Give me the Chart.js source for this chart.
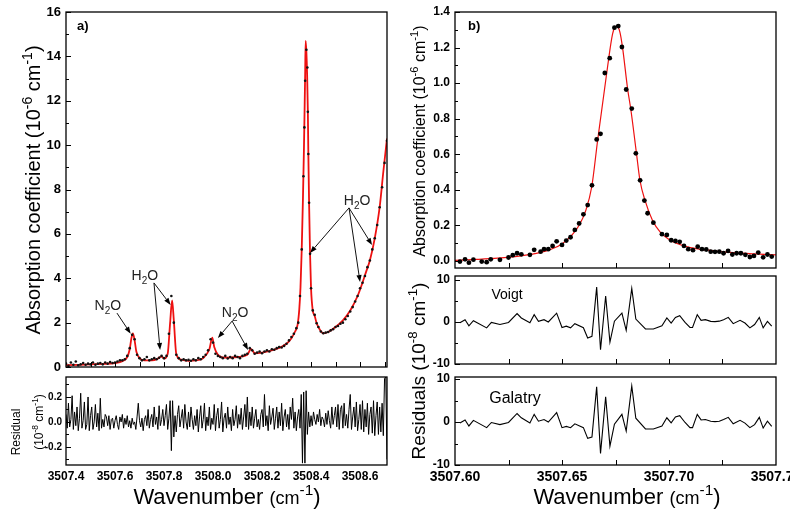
<!DOCTYPE html>
<html>
<head>
<meta charset="utf-8">
<script src="https://cdn.jsdelivr.net/npm/chart.js@4.4.1/dist/chart.umd.min.js"></script>
<style>
  body { margin: 0; background: #fff; width: 790px; height: 514px; position: relative; overflow: hidden;
         font-family: "Liberation Sans", Arial, sans-serif; color: #000; }
  canvas { position: absolute; }
  .t { position: absolute; white-space: nowrap; line-height: 1; }
  .rot { transform: translate(-50%, -50%) rotate(-90deg); }
  .ctr { transform: translate(-50%, -50%); }
  sup { font-size: 0.7em; vertical-align: 0; position: relative; top: -0.6em; line-height: 0; }
</style>
</head>
<body>
<canvas id="aMain" width="392" height="372" style="left:0;top:0"></canvas>
<canvas id="aRes" width="392" height="142" style="left:0;top:372px"></canvas>
<canvas id="bMain" width="390" height="272" style="left:400px;top:0"></canvas>
<canvas id="bVoigt" width="390" height="96" style="left:400px;top:272px"></canvas>
<canvas id="bGalatry" width="390" height="142" style="left:400px;top:372px"></canvas>

<!-- axis titles and panel labels -->
<div class="t rot" style="left:33px;top:190px;font-size:20px">Absorption coefficient (10<sup>-6</sup> cm<sup>-1</sup>)</div>
<div class="t rot" style="left:16px;top:432px;font-size:12px">Residual</div>
<div class="t rot" style="left:39px;top:422px;font-size:12px">(10<sup>-8</sup> cm<sup>-1</sup>)</div>
<div class="t ctr" style="left:227px;top:497px;font-size:22px">Wavenumber <span style="font-size:.82em">(cm</span><sup>-1</sup>)</div>
<div class="t" style="left:77px;top:19px;font-size:13px;font-weight:bold">a)</div>

<div class="t rot" style="left:420px;top:141px;font-size:16px">Absorption coefficient (10<sup>-6</sup> cm<sup>-1</sup>)</div>
<div class="t rot" style="left:418px;top:371px;font-size:19px">Residuals (10<sup>-8</sup> cm<sup>-1</sup>)</div>
<div class="t ctr" style="left:627px;top:497px;font-size:22px">Wavenumber <span style="font-size:.82em">(cm</span><sup>-1</sup>)</div>
<div class="t" style="left:468px;top:19px;font-size:13px;font-weight:bold">b)</div>
<div class="t ctr" style="left:507px;top:294px;font-size:14px">Voigt</div>
<div class="t ctr" style="left:515px;top:398px;font-size:16px">Galatry</div>

<script>
const FONT = '"Liberation Sans", Arial, sans-serif';

// ---- panel a) full spectrum ----
const aObsX = [3507.40, 3507.41, 3507.42, 3507.43, 3507.44, 3507.45, 3507.46, 3507.47, 3507.48, 3507.49,
  3507.50, 3507.51, 3507.52, 3507.53, 3507.54, 3507.55, 3507.56, 3507.57, 3507.58, 3507.59,
  3507.60, 3507.61, 3507.62, 3507.63, 3507.64, 3507.65, 3507.66, 3507.67, 3507.68, 3507.69,
  3507.70, 3507.71, 3507.72, 3507.73, 3507.74, 3507.75, 3507.76, 3507.77, 3507.78, 3507.79,
  3507.80, 3507.81, 3507.82, 3507.83, 3507.84, 3507.85, 3507.86, 3507.87, 3507.88, 3507.89,
  3507.90, 3507.91, 3507.92, 3507.93, 3507.94, 3507.95, 3507.96, 3507.97, 3507.98, 3507.99,
  3508.00, 3508.01, 3508.02, 3508.03, 3508.04, 3508.05, 3508.06, 3508.07, 3508.08, 3508.09,
  3508.10, 3508.11, 3508.12, 3508.13, 3508.14, 3508.15, 3508.16, 3508.17, 3508.18, 3508.19,
  3508.20, 3508.21, 3508.22, 3508.23, 3508.24, 3508.25, 3508.26, 3508.27, 3508.28, 3508.29,
  3508.30, 3508.31, 3508.32, 3508.33, 3508.34, 3508.348, 3508.355, 3508.362, 3508.369, 3508.373,
  3508.376, 3508.381, 3508.385, 3508.387, 3508.389, 3508.392, 3508.396, 3508.40, 3508.407, 3508.415,
  3508.423, 3508.43, 3508.44, 3508.45, 3508.46, 3508.47, 3508.48, 3508.49,
  3508.50, 3508.51, 3508.52, 3508.53, 3508.54, 3508.55, 3508.56, 3508.57, 3508.58, 3508.59,
  3508.60, 3508.61, 3508.62, 3508.63, 3508.64, 3508.65, 3508.66, 3508.67, 3508.68, 3508.69,
  3508.70, 3508.71];
const aObsY = [0.15, 0.05, 0.2, 0.1, 0.25, 0.08, 0.12, 0.18, 0.1, 0.15,
  0.12, 0.2, 0.1, 0.15, 0.18, 0.12, 0.2, 0.15, 0.22, 0.18,
  0.2, 0.25, 0.3, 0.3, 0.35, 0.5, 0.85, 1.45, 1.25, 0.55,
  0.4, 0.3, 0.35, 0.45, 0.3, 0.35, 0.4, 0.35, 0.42, 0.5,
  0.4, 0.5, 1.5, 3.2, 2.0, 0.55, 0.4, 0.3, 0.35, 0.3,
  0.32, 0.28, 0.35, 0.3, 0.4, 0.35, 0.45, 0.55, 0.75, 1.25,
  1.1, 0.6, 0.5, 0.45, 0.4, 0.5, 0.38, 0.45, 0.4, 0.5,
  0.45, 0.4, 0.5, 0.55, 0.6, 0.85, 0.75, 0.6, 0.65, 0.7,
  0.62, 0.7, 0.75, 0.7, 0.8, 0.78, 0.85, 0.9, 0.88, 0.95,
  1.05, 1.2, 1.35, 1.5, 1.75, 2.0, 3.2, 5.3, 8.6, 10.8,
  12.9, 14.3, 13.5, 11.5, 9.6, 7.4, 5.1, 3.55, 2.55, 2.35,
  1.97, 1.8, 1.6, 1.52, 1.55, 1.58, 1.65, 1.7,
  1.8, 1.85, 1.95, 2.0, 2.15, 2.3, 2.5, 2.7, 2.95, 3.2,
  3.55, 3.8, 4.1, 4.5, 4.8, 5.3, 5.8, 6.4, 7.2, 8.1,
  9.2, 10.2];
const aFitX = [3507.40, 3507.45, 3507.50, 3507.55, 3507.60, 3507.63, 3507.65, 3507.66, 3507.667, 3507.673,
  3507.68, 3507.687, 3507.70, 3507.72, 3507.75, 3507.775, 3507.79, 3507.80, 3507.815, 3507.825,
  3507.833, 3507.84, 3507.85, 3507.87, 3507.90, 3507.93, 3507.96, 3507.985, 3507.997, 3508.005,
  3508.02, 3508.05, 3508.10, 3508.14, 3508.155, 3508.17, 3508.20, 3508.25, 3508.30, 3508.32,
  3508.335, 3508.345, 3508.352, 3508.357, 3508.362, 3508.367, 3508.371, 3508.374, 3508.376, 3508.378,
  3508.381, 3508.384, 3508.387, 3508.389, 3508.392, 3508.396, 3508.40, 3508.407, 3508.415, 3508.423,
  3508.435, 3508.45, 3508.47, 3508.50, 3508.53, 3508.56, 3508.59, 3508.61, 3508.625, 3508.64,
  3508.66, 3508.68, 3508.695, 3508.71];
const aFitY = [0.08, 0.10, 0.12, 0.14, 0.18, 0.26, 0.45, 0.8, 1.3, 1.52,
  1.2, 0.7, 0.4, 0.3, 0.3, 0.38, 0.48, 0.38, 0.6, 2.0,
  3.0, 2.1, 0.6, 0.33, 0.28, 0.3, 0.4, 0.8, 1.32, 0.9,
  0.55, 0.42, 0.45, 0.55, 0.82, 0.62, 0.65, 0.78, 1.05, 1.3,
  1.6, 1.9, 2.6, 3.6, 5.3, 7.6, 9.8, 11.8, 13.2, 14.7,
  14.2, 13.2, 11.5, 9.6, 7.4, 5.1, 3.55, 2.55, 2.3, 1.97,
  1.7, 1.52, 1.58, 1.8, 2.1, 2.55, 3.2, 3.8, 4.3, 4.8,
  5.8, 7.2, 8.8, 10.3];
const aResX = [
  3507.400, 3507.405, 3507.410, 3507.415, 3507.420, 3507.425, 3507.430, 3507.435, 3507.440, 3507.445,
  3507.450, 3507.455, 3507.460, 3507.465, 3507.470, 3507.475, 3507.480, 3507.485, 3507.490, 3507.495,
  3507.500, 3507.505, 3507.510, 3507.515, 3507.520, 3507.525, 3507.530, 3507.535, 3507.540, 3507.545,
  3507.550, 3507.555, 3507.560, 3507.565, 3507.570, 3507.575, 3507.580, 3507.585, 3507.590, 3507.595,
  3507.600, 3507.605, 3507.610, 3507.615, 3507.620, 3507.625, 3507.630, 3507.635, 3507.640, 3507.645,
  3507.650, 3507.655, 3507.660, 3507.665, 3507.670, 3507.675, 3507.680, 3507.685, 3507.690, 3507.695,
  3507.700, 3507.705, 3507.710, 3507.715, 3507.720, 3507.725, 3507.730, 3507.735, 3507.740, 3507.745,
  3507.750, 3507.755, 3507.760, 3507.765, 3507.770, 3507.775, 3507.780, 3507.785, 3507.790, 3507.795,
  3507.800, 3507.805, 3507.810, 3507.815, 3507.820, 3507.825, 3507.830, 3507.835, 3507.840, 3507.845,
  3507.850, 3507.855, 3507.860, 3507.865, 3507.870, 3507.875, 3507.880, 3507.885, 3507.890, 3507.895,
  3507.900, 3507.905, 3507.910, 3507.915, 3507.920, 3507.925, 3507.930, 3507.935, 3507.940, 3507.945,
  3507.950, 3507.955, 3507.960, 3507.965, 3507.970, 3507.975, 3507.980, 3507.985, 3507.990, 3507.995,
  3508.000, 3508.005, 3508.010, 3508.015, 3508.020, 3508.025, 3508.030, 3508.035, 3508.040, 3508.045,
  3508.050, 3508.055, 3508.060, 3508.065, 3508.070, 3508.075, 3508.080, 3508.085, 3508.090, 3508.095,
  3508.100, 3508.105, 3508.110, 3508.115, 3508.120, 3508.125, 3508.130, 3508.135, 3508.140, 3508.145,
  3508.150, 3508.155, 3508.160, 3508.165, 3508.170, 3508.175, 3508.180, 3508.185, 3508.190, 3508.195,
  3508.200, 3508.205, 3508.210, 3508.215, 3508.220, 3508.225, 3508.230, 3508.235, 3508.240, 3508.245,
  3508.250, 3508.255, 3508.260, 3508.265, 3508.270, 3508.275, 3508.280, 3508.285, 3508.290, 3508.295,
  3508.300, 3508.305, 3508.310, 3508.315, 3508.320, 3508.325, 3508.330, 3508.335, 3508.340, 3508.345,
  3508.350, 3508.355, 3508.360, 3508.365, 3508.370, 3508.375, 3508.380, 3508.385, 3508.390, 3508.395,
  3508.400, 3508.405, 3508.410, 3508.415, 3508.420, 3508.425, 3508.430, 3508.435, 3508.440, 3508.445,
  3508.450, 3508.455, 3508.460, 3508.465, 3508.470, 3508.475, 3508.480, 3508.485, 3508.490, 3508.495,
  3508.500, 3508.505, 3508.510, 3508.515, 3508.520, 3508.525, 3508.530, 3508.535, 3508.540, 3508.545,
  3508.550, 3508.555, 3508.560, 3508.565, 3508.570, 3508.575, 3508.580, 3508.585, 3508.590, 3508.595,
  3508.600, 3508.605, 3508.610, 3508.615, 3508.620, 3508.625, 3508.630, 3508.635, 3508.640, 3508.645,
  3508.650, 3508.655, 3508.660, 3508.665, 3508.670, 3508.675, 3508.680, 3508.685, 3508.690, 3508.695,
  3508.700, 3508.705, 3508.710];
const aResY = [
  0.06, -0.05, 0.15, -0.04, 0.02, 0.21, -0.06, 0.08, -0.03, 0.12,
  -0.07, 0.03, 0.23, -0.05, 0.01, 0.16, -0.06, -0.02, 0.2, -0.07,
  0.05, 0.12, -0.06, 0.0, 0.14, -0.04, 0.07, -0.07, 0.19, -0.05,
  0.02, -0.04, 0.06, 0.04, -0.03, 0.05, -0.06, 0.02, 0.03, -0.05,
  0.01, 0.05, -0.02, -0.06, 0.04, 0.0, 0.06, -0.05, 0.03, -0.02,
  0.05, -0.04, 0.01, -0.05, 0.03, -0.02, 0.0, -0.06, 0.04, 0.15,
  0.01, -0.04, 0.03, -0.07, 0.02, 0.05, -0.03, 0.1, -0.05, 0.02,
  0.06, -0.04, 0.12, -0.02, 0.04, -0.06, 0.13, -0.03, 0.02, 0.1,
  -0.03, 0.05, 0.14, -0.06, 0.03, 0.17, -0.23, 0.17, -0.12, 0.05,
  -0.08, 0.06, 0.13, -0.04, 0.03, 0.1, -0.05, 0.14, 0.0, -0.06,
  0.08, -0.04, 0.12, 0.02, -0.06, 0.05, -0.03, 0.1, -0.08, 0.04,
  0.13, -0.05, 0.02, 0.15, -0.07, 0.04, -0.03, 0.12, -0.06, 0.03,
  -0.02, 0.14, -0.07, 0.05, 0.11, -0.05, 0.02, 0.16, -0.08, 0.03,
  0.07, -0.05, 0.12, -0.02, 0.04, -0.07, 0.1, -0.03, 0.02, 0.13,
  -0.05, 0.06, -0.02, 0.11, -0.06, 0.04, 0.14, -0.04, 0.2, -0.06,
  0.08, -0.03, 0.12, -0.05, 0.03, 0.1, -0.04, 0.02, -0.06, 0.06,
  0.1, -0.04, 0.22, -0.03, 0.05, -0.07, 0.13, -0.02, 0.04, 0.11,
  -0.06, 0.03, 0.12, -0.05, 0.08, -0.03, 0.15, -0.07, 0.04, 0.1,
  -0.04, 0.06, -0.06, 0.12, 0.02, 0.19, -0.05, 0.08, -0.07, 0.04,
  0.1, -0.05, 0.22, -0.33, 0.24, -0.33, 0.25, -0.1, 0.08, -0.04,
  0.05, -0.03, 0.08, 0.02, -0.02, 0.06, 0.0, 0.1, -0.03, 0.04,
  0.02, -0.04, 0.07, -0.02, 0.09, 0.01, -0.05, 0.12, -0.02, 0.05,
  0.12, -0.04, 0.14, -0.06, 0.1, 0.13, -0.05, 0.15, -0.03, 0.06,
  -0.05, 0.1, 0.22, -0.06, 0.04, 0.12, -0.04, 0.16, -0.07, 0.02,
  0.14, -0.06, 0.17, -0.08, 0.1, -0.04, 0.15, -0.1, 0.06, 0.12,
  -0.09, 0.17, -0.11, 0.05, 0.16, -0.1, 0.12, -0.08, 0.15, -0.11,
  0.35, 0.36, -0.3];
const aXTicks = [3507.4, 3507.6, 3507.8, 3508.0, 3508.2, 3508.4, 3508.6];
const aXMarks = [3507.5, 3507.6, 3507.7, 3507.8, 3507.9, 3508.0, 3508.1, 3508.2, 3508.3, 3508.4, 3508.5, 3508.6, 3508.7];
const aYTicks = [0, 2, 4, 6, 8, 10, 12, 14, 16];
const aYMinor = [1, 3, 5, 7, 9, 11, 13, 15];
const aResYTicks = [-0.2, 0.0, 0.2];
const aResYMinor = [-0.3, -0.1, 0.1, 0.3];

// labels with arrows: text centre and arrow (from x,y -> to x,y) in data units
const aNotes = [
  { text: ['N', '2', 'O'], at: [3507.571, 2.79], arrows: [[3507.608, 2.43, 3507.664, 1.5]] },
  { text: ['H', '2', 'O'], at: [3507.722, 4.15], arrows: [[3507.759, 3.79, 3507.784, 0.77], [3507.759, 3.79, 3507.827, 2.8]] },
  { text: ['N', '2', 'O'], at: [3508.09, 2.48], arrows: [[3508.078, 2.07, 3508.02, 1.31], [3508.078, 2.07, 3508.143, 0.77]] },
  { text: ['H', '2', 'O'], at: [3508.588, 7.53], arrows: [[3508.555, 7.17, 3508.396, 5.14], [3508.555, 7.17, 3508.6, 3.83], [3508.555, 7.17, 3508.649, 5.5]] }
];

// ---- panel b) single line ----
const bObsX = [3507.6023, 3507.6047, 3507.6065, 3507.6086, 3507.6125, 3507.6148, 3507.6167, 3507.621, 3507.625, 3507.627,
  3507.629, 3507.631, 3507.635, 3507.637, 3507.640, 3507.6416, 3507.6436, 3507.6456, 3507.6475, 3507.650,
  3507.652, 3507.654, 3507.656, 3507.658, 3507.660, 3507.662, 3507.664, 3507.6662, 3507.668, 3507.670,
  3507.6723, 3507.6745, 3507.6763, 3507.678, 3507.680, 3507.6826, 3507.6845, 3507.6865, 3507.6885, 3507.690,
  3507.6927, 3507.6967, 3507.699, 3507.701, 3507.703, 3507.705, 3507.707, 3507.709, 3507.7112, 3507.7134,
  3507.7154, 3507.7174, 3507.7195, 3507.7215, 3507.7235, 3507.7255, 3507.7276, 3507.7296, 3507.7316, 3507.7336,
  3507.7357, 3507.7378, 3507.7397, 3507.7417, 3507.744, 3507.746, 3507.748];
const bObsY = [-0.004, 0.009, -0.01, 0.007, -0.004, -0.007, 0.009, 0.006, 0.019, 0.032,
  0.043, 0.037, 0.034, 0.062, 0.052, 0.066, 0.066, 0.084, 0.11, 0.09,
  0.114, 0.133, 0.174, 0.211, 0.262, 0.314, 0.425, 0.683, 0.715, 1.057,
  1.14, 1.312, 1.321, 1.203, 0.964, 0.857, 0.605, 0.453, 0.339, 0.268,
  0.215, 0.15, 0.146, 0.116, 0.112, 0.107, 0.084, 0.066, 0.06, 0.08,
  0.066, 0.064, 0.052, 0.051, 0.052, 0.043, 0.056, 0.036, 0.043, 0.043,
  0.034, 0.022, 0.028, 0.047, 0.02, 0.036, 0.024];
const bFitX = [3507.600, 3507.610, 3507.620, 3507.630, 3507.640, 3507.645, 3507.650, 3507.655, 3507.658, 3507.661,
  3507.6639, 3507.6667, 3507.6709, 3507.6737, 3507.6755, 3507.6770, 3507.6783, 3507.6807, 3507.6821, 3507.6848,
  3507.6864, 3507.6888, 3507.6922, 3507.696, 3507.700, 3507.705, 3507.710, 3507.720, 3507.730, 3507.740, 3507.750];
const bFitY = [0.003, 0.008, 0.015, 0.027, 0.048, 0.066, 0.095, 0.15, 0.2, 0.28,
  0.417, 0.683, 1.057, 1.28, 1.32, 1.29, 1.2, 0.964, 0.857, 0.605,
  0.455, 0.34, 0.23, 0.16, 0.12, 0.092, 0.075, 0.058, 0.046, 0.039, 0.034];
const bResX = [3507.6023, 3507.6047, 3507.6065, 3507.6086, 3507.6148, 3507.617, 3507.621, 3507.625, 3507.629, 3507.631,
  3507.635, 3507.637, 3507.639, 3507.6416, 3507.6436, 3507.6475, 3507.650, 3507.652, 3507.654, 3507.656,
  3507.660, 3507.662, 3507.664, 3507.6662, 3507.668, 3507.6704, 3507.6724, 3507.6745, 3507.678, 3507.680,
  3507.6826, 3507.6845, 3507.689, 3507.6927, 3507.6967, 3507.699, 3507.701, 3507.703, 3507.705, 3507.7075,
  3507.7098, 3507.711, 3507.7132, 3507.715, 3507.717, 3507.7195, 3507.7215, 3507.7235, 3507.7255, 3507.7277,
  3507.730, 3507.7332, 3507.7355, 3507.7378, 3507.740, 3507.7422, 3507.744, 3507.746, 3507.748];
const bVoigtY = [-0.2, 0.55, -0.9, 0.3, -1.4, -0.1, -0.6, -0.1, 2.0, 0.95,
  -0.2, 1.75, 0.15, 0.55, 0, 2.1, -1.3, -1.0, -1.4, -0.4,
  -1.35, -3.8, -3.4, 8.3, -6.6, 6.2, -4.8, 0.2, 2.1, -2.0,
  8.0, 0.7, -1.65, -1.65, -0.9, 0.95, -0.25, 1.1, 1.5, -0.1,
  -1.3, -1.3, 1.75, 0.4, 0.55, 0.15, 0.1, 0.2, 0.55, 1.1,
  -0.4, 0.4, -0.25, -1.4, -0.6, 1.1, -1.4, 0.15, -1.0];
const bGalatryY = [-0.2, 0.5, -0.9, 0.4, -1.3, -0.1, -0.6, -0.1, 2.0, 1.0,
  -0.2, 1.8, 0.2, 0.6, 0, 2.2, -1.3, -1.0, -1.3, -0.4,
  -1.3, -3.8, -3.5, 8.2, -7.3, 5.9, -5.6, -0.5, 1.8, -2.1,
  8.4, 0.9, -1.6, -1.6, -0.9, 1.0, -0.2, 1.2, 1.5, -0.1,
  -1.3, -1.3, 1.8, 0.5, 0.6, 0.2, 0.1, 0.2, 0.6, 1.1,
  -0.4, 0.4, -0.25, -1.3, -0.6, 1.1, -1.4, 0.2, -1.0];
const bXTicks = [3507.60, 3507.65, 3507.70, 3507.75];
const bXMarks = [3507.625, 3507.65, 3507.675, 3507.70, 3507.725];
const bYTicks = [0.0, 0.2, 0.4, 0.6, 0.8, 1.0, 1.2, 1.4];
const bYMinor = [0.1, 0.3, 0.5, 0.7, 0.9, 1.1, 1.3];
const bResYTicks = [-10, 0, 10];
const bResYMinor = [-5, 5];

const pts = (xs, ys) => xs.map((x, i) => ({ x, y: ys[i] }));

// box frame + inward tick marks (bottom and left)
const frameTicks = {
  id: 'frameTicks',
  afterDatasetsDraw(chart, args, opts) {
    const { ctx, chartArea: a, scales: { x, y } } = chart;
    ctx.save();
    ctx.strokeStyle = '#000';
    ctx.lineWidth = 1;
    ctx.beginPath();
    (opts.xMarks || []).forEach(v => {
      const px = Math.round(x.getPixelForValue(v)) + 0.5;
      ctx.moveTo(px, a.bottom); ctx.lineTo(px, a.bottom - 5);
    });
    (opts.yMajor || []).forEach(v => {
      const py = Math.round(y.getPixelForValue(v)) + 0.5;
      ctx.moveTo(a.left, py); ctx.lineTo(a.left + 5, py);
    });
    (opts.yMinor || []).forEach(v => {
      const py = Math.round(y.getPixelForValue(v)) + 0.5;
      ctx.moveTo(a.left, py); ctx.lineTo(a.left + 3, py);
    });
    ctx.stroke();
    ctx.lineWidth = 1.3;
    ctx.strokeRect(a.left, a.top, a.right - a.left, a.bottom - a.top);
    ctx.restore();
  }
};

function drawArrow(ctx, x0, y0, x1, y1) {
  const ang = Math.atan2(y1 - y0, x1 - x0);
  const L = 7, W = 2.6;
  const bx = x1 - L * Math.cos(ang), by = y1 - L * Math.sin(ang);
  ctx.beginPath();
  ctx.moveTo(x0, y0); ctx.lineTo(bx, by);
  ctx.stroke();
  ctx.beginPath();
  ctx.moveTo(x1, y1);
  ctx.lineTo(bx + W * Math.sin(ang), by - W * Math.cos(ang));
  ctx.lineTo(bx - W * Math.sin(ang), by + W * Math.cos(ang));
  ctx.closePath();
  ctx.fill();
}

// molecule labels (N2O / H2O with subscript) and their arrows
const notes = {
  id: 'notes',
  afterDatasetsDraw(chart, args, opts) {
    if (!opts.items) return;
    const { ctx, scales: { x, y } } = chart;
    ctx.save();
    ctx.fillStyle = '#222';
    ctx.strokeStyle = '#111';
    ctx.lineWidth = 1;
    ctx.textBaseline = 'alphabetic';
    opts.items.forEach(n => {
      const big = '14px ' + FONT, small = '10px ' + FONT;
      ctx.font = big; const w1 = ctx.measureText(n.text[0]).width, w3 = ctx.measureText(n.text[2]).width;
      ctx.font = small; const w2 = ctx.measureText(n.text[1]).width;
      let cx = x.getPixelForValue(n.at[0]) - (w1 + w2 + w3) / 2;
      const base = y.getPixelForValue(n.at[1]) + 5;
      ctx.font = big; ctx.fillText(n.text[0], cx, base); cx += w1;
      ctx.font = small; ctx.fillText(n.text[1], cx, base + 4); cx += w2;
      ctx.font = big; ctx.fillText(n.text[2], cx, base);
      ctx.fillStyle = '#000';
      n.arrows.forEach(([x0, y0, x1, y1]) => drawArrow(ctx,
        x.getPixelForValue(x0), y.getPixelForValue(y0), x.getPixelForValue(x1), y.getPixelForValue(y1)));
      ctx.fillStyle = '#222';
    });
    ctx.restore();
  }
};

function makeChart(id, o) {
  return new Chart(document.getElementById(id), {
    type: 'scatter',
    data: { datasets: o.datasets },
    options: {
      responsive: false,
      animation: false,
      events: [],
      layout: { padding: o.pad },
      plugins: { legend: { display: false }, tooltip: { enabled: false }, frameTicks: o.frame, notes: { items: o.notes } },
      scales: {
        x: {
          type: 'linear', min: o.xMin, max: o.xMax,
          grid: { display: false, drawTicks: false }, border: { display: false },
          afterBuildTicks: s => { s.ticks = o.xTicks.map(v => ({ value: v })); },
          afterFit: s => { s.height = o.xH; s.paddingLeft = 0; s.paddingRight = 0; },
          ticks: { display: o.xLabels, autoSkip: false, maxRotation: 0, padding: 4, color: '#000',
                   font: { family: FONT, size: o.xFont, weight: 'bold' }, callback: v => v.toFixed(o.xDec) }
        },
        y: {
          type: 'linear', min: o.yMin, max: o.yMax,
          grid: { display: false, drawTicks: false }, border: { display: false },
          afterBuildTicks: s => { s.ticks = o.yTicks.map(v => ({ value: v })); },
          afterFit: s => { s.width = o.yW; s.paddingTop = 0; s.paddingBottom = 0; },
          ticks: { autoSkip: false, padding: o.yPad || 5, color: '#000',
                   font: { family: FONT, size: o.yFont, weight: 'bold' }, callback: v => v.toFixed(o.yDec) }
        }
      }
    },
    plugins: [frameTicks, notes]
  });
}

// a) spectrum
makeChart('aMain', {
  datasets: [
    { data: pts(aObsX, aObsY), pointRadius: 1.3, pointBackgroundColor: '#111', pointBorderWidth: 0 },
    { data: pts(aFitX, aFitY), showLine: true, pointRadius: 0, borderColor: '#ee1111', borderWidth: 1.8, cubicInterpolationMode: 'monotone' }
  ],
  pad: { top: 12, right: 5, bottom: 5, left: 0 },
  xMin: 3507.4, xMax: 3508.71, xTicks: aXTicks, xLabels: false, xH: 0, xFont: 12, xDec: 1,
  yMin: 0, yMax: 16, yTicks: aYTicks, yW: 66, yFont: 13, yDec: 0,
  frame: { xMarks: aXMarks, yMajor: aYTicks, yMinor: aYMinor },
  notes: aNotes
});

// a) residual
makeChart('aRes', {
  datasets: [
    { data: pts(aResX, aResY), showLine: true, pointRadius: 0, borderColor: '#000', borderWidth: 1 }
  ],
  pad: { top: 5, right: 5, bottom: 0, left: 0 },
  xMin: 3507.4, xMax: 3508.71, xTicks: aXTicks, xLabels: true, xH: 49, xFont: 12, xDec: 1,
  yMin: -0.345, yMax: 0.36, yTicks: aResYTicks, yW: 66, yFont: 10, yDec: 1, yPad: 4,
  frame: { xMarks: [], yMajor: aResYTicks, yMinor: aResYMinor }
});

// b) line profile
makeChart('bMain', {
  datasets: [
    { data: pts(bObsX, bObsY), pointRadius: 2.4, pointBackgroundColor: '#000', pointBorderWidth: 0 },
    { data: pts(bFitX, bFitY), showLine: true, pointRadius: 0, borderColor: '#ee1111', borderWidth: 1.2, cubicInterpolationMode: 'monotone' }
  ],
  pad: { top: 12, right: 14, bottom: 4, left: 0 },
  xMin: 3507.60, xMax: 3507.75, xTicks: bXTicks, xLabels: false, xH: 0, xFont: 14, xDec: 2,
  yMin: -0.04, yMax: 1.4, yTicks: bYTicks, yW: 55, yFont: 12, yDec: 1,
  frame: { xMarks: bXMarks, yMajor: bYTicks, yMinor: bYMinor }
});

// b) Voigt residuals
makeChart('bVoigt', {
  datasets: [
    { data: pts(bResX, bVoigtY), showLine: true, pointRadius: 0, borderColor: '#000', borderWidth: 1.1 }
  ],
  pad: { top: 4, right: 14, bottom: 4, left: 0 },
  xMin: 3507.60, xMax: 3507.75, xTicks: bXTicks, xLabels: false, xH: 0, xFont: 14, xDec: 2,
  yMin: -10, yMax: 10.95, yTicks: bResYTicks, yW: 55, yFont: 12, yDec: 0,
  frame: { xMarks: bXMarks, yMajor: bResYTicks, yMinor: bResYMinor }
});

// b) Galatry residuals
makeChart('bGalatry', {
  datasets: [
    { data: pts(bResX, bGalatryY), showLine: true, pointRadius: 0, borderColor: '#000', borderWidth: 1.1 }
  ],
  pad: { top: 5, right: 14, bottom: 0, left: 0 },
  xMin: 3507.60, xMax: 3507.75, xTicks: bXTicks, xLabels: true, xH: 49, xFont: 14, xDec: 2,
  yMin: -10, yMax: 10.5, yTicks: bResYTicks, yW: 55, yFont: 12, yDec: 0,
  frame: { xMarks: bXMarks, yMajor: bResYTicks, yMinor: bResYMinor }
});
</script>
</body>
</html>
